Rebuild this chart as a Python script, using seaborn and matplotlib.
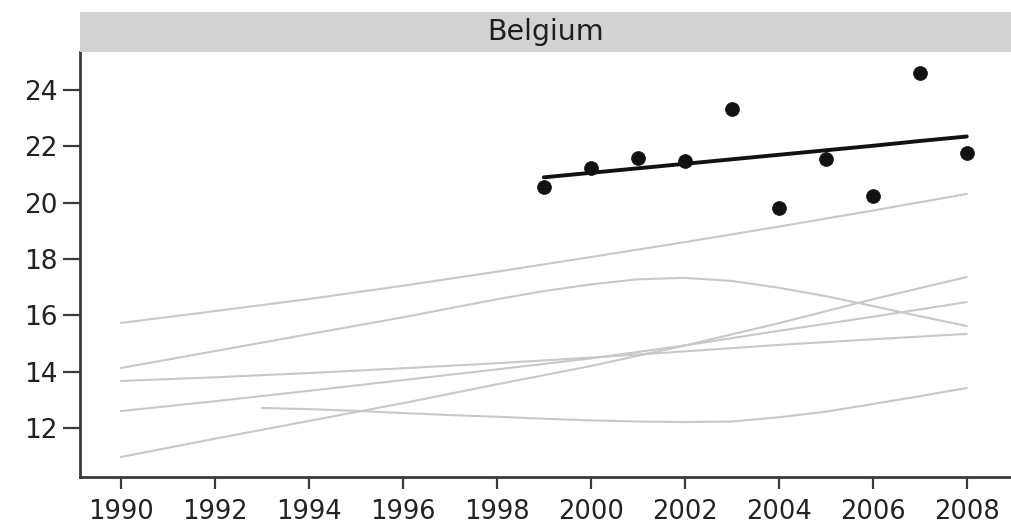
import numpy as np
import pandas as pd
import matplotlib
matplotlib.use("Agg")
import matplotlib.pyplot as plt
import seaborn as sns

# Belgium observations and its fitted trend
years = [1999, 2000, 2001, 2002, 2003, 2004, 2005, 2006, 2007, 2008]
belgium_values = [20.57, 21.22, 21.58, 21.48, 23.31, 19.80, 21.54, 20.24, 24.62, 21.77]
belgium_trend = [20.90, 21.06, 21.22, 21.38, 21.54, 21.70, 21.86, 22.02, 22.19, 22.35]

# Trend curves of the other countries (background reference)
years_even = [1990, 1992, 1994, 1996, 1998, 2000, 2002, 2004, 2006, 2008]
country_a = [15.73, 16.15, 16.58, 17.05, 17.55, 18.07, 18.60, 19.15, 19.72, 20.31]
country_c = [13.67, 13.80, 13.95, 14.12, 14.30, 14.50, 14.72, 14.95, 15.15, 15.34]
country_d = [12.60, 12.95, 13.32, 13.70, 14.08, 14.47, 14.93, 15.45, 15.95, 16.47]
country_e = [10.97, 11.62, 12.25, 12.88, 13.55, 14.20, 14.93, 15.72, 16.57, 17.36]

years_full = list(range(1990, 2009))
country_b = [14.13, 14.43, 14.73, 15.03, 15.33, 15.63, 15.93, 16.25, 16.57, 16.86,
             17.10, 17.28, 17.33, 17.22, 16.98, 16.68, 16.33, 15.97, 15.62]

years_f = list(range(1993, 2009))
country_f = [12.71, 12.67, 12.61, 12.53, 12.46, 12.40, 12.33, 12.27, 12.23, 12.21,
             12.23, 12.38, 12.58, 12.85, 13.13, 13.42]

x_ticks = list(range(1990, 2009, 2))
y_ticks = [12, 14, 16, 18, 20, 22, 24]
panel_title = "Belgium"

others = pd.concat([
    pd.DataFrame({"year": years_even, "value": country_a, "country": "A"}),
    pd.DataFrame({"year": years_full, "value": country_b, "country": "B"}),
    pd.DataFrame({"year": years_even, "value": country_c, "country": "C"}),
    pd.DataFrame({"year": years_even, "value": country_d, "country": "D"}),
    pd.DataFrame({"year": years_even, "value": country_e, "country": "E"}),
    pd.DataFrame({"year": years_f, "value": country_f, "country": "F"}),
], ignore_index=True)
belgium = pd.DataFrame({"year": years, "value": belgium_values, "trend": belgium_trend})

sns.set_style("ticks")
plt.rcParams["font.family"] = ["DejaVu Sans"]

fig = plt.figure(figsize=(10.12, 5.24), dpi=100)
ax = fig.add_axes([80 / 1012, 1 - 477 / 524, 930 / 1012, 425 / 524])

sns.lineplot(data=others, x="year", y="value", units="country", estimator=None,
             color="#c8c8c8", linewidth=1.5, ax=ax, legend=False)
sns.lineplot(data=belgium, x="year", y="trend", color="#111111", linewidth=2.8,
             ax=ax, legend=False)
sns.scatterplot(data=belgium, x="year", y="value", color="#111111", s=100,
                marker="o", edgecolor="#111111", linewidth=0.5, ax=ax, zorder=5)

ax.set_xlim(1989.13, 2008.92)
ax.set_ylim(10.26, 25.35)
ax.set_xticks(x_ticks)
ax.set_yticks(y_ticks)
ax.set_xlabel("")
ax.set_ylabel("")

for side in ["top", "right"]:
    ax.spines[side].set_visible(False)
for side in ["left", "bottom"]:
    ax.spines[side].set_color("#3a3a3a")
    ax.spines[side].set_linewidth(2.0)

ax.tick_params(axis="y", length=12, width=1.6, color="#3a3a3a", pad=4,
               labelsize=19, labelcolor="#222222")
ax.tick_params(axis="x", length=8.5, width=1.6, color="#3a3a3a", pad=7,
               labelsize=18.5, labelcolor="#222222")

# Panel strip with the country name
strip = fig.add_axes([80 / 1012, 1 - 52 / 524, 932 / 1012, 40 / 524])
strip.set_facecolor("#d2d2d2")
strip.set_xticks([])
strip.set_yticks([])
for s in strip.spines.values():
    s.set_visible(False)
strip.text(0.5, 0.5, panel_title, ha="center", va="center", fontsize=20.5,
           color="#1e1e1e", transform=strip.transAxes)

fig.savefig("out.png", dpi=100)
